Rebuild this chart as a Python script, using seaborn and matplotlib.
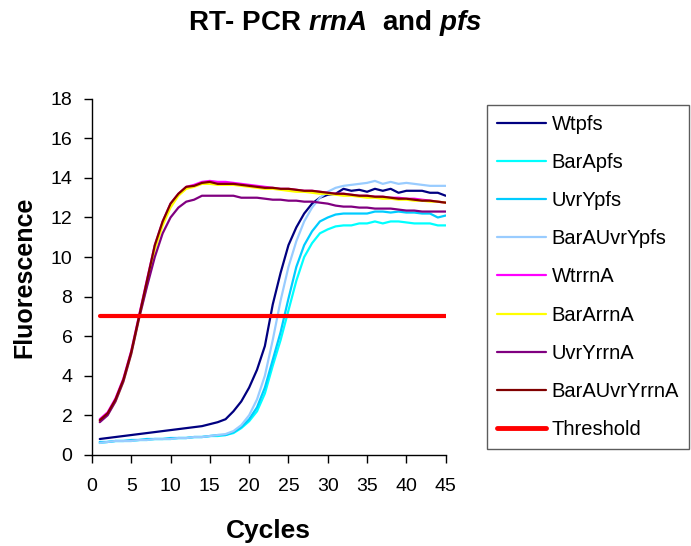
import pandas as pd
import matplotlib
matplotlib.use("Agg")
import matplotlib.pyplot as plt
import seaborn as sns
from matplotlib.lines import Line2D

# cycle numbers
cycles = list(range(1, 46))

# fluorescence readings per sample
wtpfs = [0.8, 0.85, 0.9, 0.95, 1.0, 1.05, 1.1, 1.15, 1.2, 1.25, 1.3, 1.35, 1.4, 1.45, 1.55,
         1.65, 1.8, 2.2, 2.7, 3.4, 4.3, 5.5, 7.6, 9.2, 10.6, 11.5, 12.2, 12.7, 13.0, 13.15,
         13.2, 13.45, 13.35, 13.4, 13.3, 13.45, 13.35, 13.45, 13.25, 13.35, 13.35, 13.35, 13.25, 13.25, 13.1]
barapfs = [0.6, 0.65, 0.7, 0.7, 0.7, 0.75, 0.75, 0.8, 0.8, 0.8, 0.85, 0.85, 0.9, 0.9, 0.95,
           0.95, 1.0, 1.1, 1.35, 1.7, 2.2, 3.1, 4.5, 5.8, 7.3, 8.8, 10.0, 10.7, 11.2, 11.4,
           11.55, 11.6, 11.6, 11.7, 11.7, 11.8, 11.7, 11.8, 11.8, 11.75, 11.7, 11.7, 11.7, 11.6, 11.6]
uvrypfs = [0.65, 0.65, 0.7, 0.7, 0.75, 0.75, 0.8, 0.8, 0.8, 0.85, 0.85, 0.85, 0.9, 0.9, 0.95,
           1.0, 1.0, 1.15, 1.4, 1.8, 2.4, 3.4, 4.8, 6.2, 7.9, 9.5, 10.6, 11.3, 11.8, 12.0,
           12.15, 12.2, 12.2, 12.2, 12.2, 12.3, 12.3, 12.25, 12.3, 12.25, 12.25, 12.2, 12.2, 12.0, 12.1]
barauvrypfs = [0.6, 0.65, 0.7, 0.7, 0.7, 0.75, 0.75, 0.8, 0.8, 0.8, 0.85, 0.85, 0.9, 0.9, 0.95,
               1.0, 1.05, 1.2, 1.5, 2.0, 2.8, 4.0, 5.8, 7.8, 9.5, 10.8, 11.8, 12.5, 13.0, 13.3,
               13.5, 13.6, 13.65, 13.7, 13.75, 13.85, 13.7, 13.8, 13.7, 13.75, 13.7, 13.65, 13.6, 13.6, 13.6]
wtrrna = [1.8, 2.15, 2.85, 3.85, 5.25, 7.05, 8.85, 10.6, 11.8, 12.7, 13.2, 13.55, 13.65, 13.8, 13.85,
          13.8, 13.8, 13.75, 13.7, 13.65, 13.6, 13.55, 13.5, 13.45, 13.45, 13.4, 13.35, 13.35, 13.3, 13.25,
          13.2, 13.2, 13.15, 13.1, 13.1, 13.05, 13.05, 13.0, 13.0, 12.95, 12.95, 12.9, 12.85, 12.8, 12.75]
bararrna = [1.7, 2.05, 2.7, 3.7, 5.1, 6.9, 8.6, 10.4, 11.6, 12.5, 13.1, 13.45, 13.55, 13.7, 13.7,
            13.65, 13.65, 13.65, 13.6, 13.55, 13.5, 13.45, 13.45, 13.4, 13.35, 13.3, 13.3, 13.25, 13.2, 13.2,
            13.15, 13.1, 13.1, 13.05, 13.0, 13.0, 12.95, 12.95, 12.9, 12.9, 12.85, 12.85, 12.8, 12.8, 12.75]
uvryrrna = [1.65, 2.0, 2.7, 3.7, 5.1, 6.9, 8.5, 10.0, 11.2, 12.0, 12.5, 12.8, 12.9, 13.1, 13.1,
            13.1, 13.1, 13.1, 13.0, 13.0, 13.0, 12.95, 12.9, 12.9, 12.85, 12.85, 12.8, 12.8, 12.75, 12.7,
            12.6, 12.55, 12.55, 12.5, 12.5, 12.45, 12.45, 12.45, 12.4, 12.35, 12.35, 12.3, 12.3, 12.3, 12.3]
barauvryrrna = [1.75, 2.1, 2.8, 3.8, 5.2, 7.0, 8.8, 10.6, 11.8, 12.7, 13.2, 13.55, 13.6, 13.75, 13.8,
                13.7, 13.7, 13.7, 13.65, 13.6, 13.55, 13.5, 13.5, 13.45, 13.45, 13.4, 13.35, 13.35, 13.3, 13.25,
                13.2, 13.2, 13.15, 13.1, 13.1, 13.05, 13.05, 13.0, 12.95, 12.95, 12.9, 12.85, 12.85, 12.8, 12.75]
threshold = 7.0

series = {
    "Wtpfs": wtpfs,
    "BarApfs": barapfs,
    "UvrYpfs": uvrypfs,
    "BarAUvrYpfs": barauvrypfs,
    "WtrrnA": wtrrna,
    "BarArrnA": bararrna,
    "UvrYrrnA": uvryrrna,
    "BarAUvrYrrnA": barauvryrrna,
    "Threshold": [threshold] * len(cycles),
}
colors = {
    "Wtpfs": "#000080",
    "BarApfs": "#00FFFF",
    "UvrYpfs": "#00CCFF",
    "BarAUvrYpfs": "#99CCFF",
    "WtrrnA": "#FF00FF",
    "BarArrnA": "#FFFF00",
    "UvrYrrnA": "#800080",
    "BarAUvrYrrnA": "#800000",
    "Threshold": "#FF0000",
}

rows = []
for name, vals in series.items():
    for c, v in zip(cycles, vals):
        rows.append({"Cycle": c, "Fluorescence": v, "Sample": name})
df = pd.DataFrame(rows)

sns.set_style("ticks")
plt.rcParams["font.family"] = ["Liberation Sans", "DejaVu Sans"]
plt.rcParams["mathtext.fontset"] = "custom"
plt.rcParams["mathtext.bfit"] = "Liberation Sans:italic:bold"
plt.rcParams["mathtext.rm"] = "Liberation Sans:bold"
for key in ["text.color", "axes.labelcolor", "xtick.color", "ytick.color"]:
    plt.rcParams[key] = "black"

fig = plt.figure(figsize=(6.91, 5.46), dpi=100)
ax = fig.add_axes([0.133, 0.167, 0.512, 0.652])

sizes = {k: 1.6 for k in series}
sizes["Threshold"] = 3.0
sns.lineplot(data=df, x="Cycle", y="Fluorescence", hue="Sample", size="Sample",
             sizes=sizes, palette=colors, hue_order=list(series), size_order=list(series),
             ax=ax, legend=False)

ax.set_xlim(0, 45)
ax.set_ylim(0, 18)
ax.set_xticks(range(0, 46, 5))
ax.set_yticks(range(0, 19, 2))
ax.tick_params(labelsize=14, length=6, width=1, color="black")
ax.tick_params(axis="y", pad=8)
ax.tick_params(axis="x", pad=11)
for s in ["left", "bottom"]:
    ax.spines[s].set_color("black")
    ax.spines[s].set_linewidth(1)
sns.despine(ax=ax)

ax.set_xlabel("Cycles", fontsize=19, fontweight="bold", labelpad=17)
ax.set_ylabel("Fluorescence", fontsize=18, fontweight="bold", labelpad=10)
fig.text(0.485, 0.957, r"RT- PCR $\mathbfit{rrnA}$  and $\mathbfit{pfs}$", fontsize=20,
         fontweight="bold", ha="center", va="center")

handles = [Line2D([0], [0], color=colors[k], lw=sizes[k] if k != "Threshold" else 3.5) for k in series]
leg = fig.legend(handles, list(series), loc="upper left", bbox_to_anchor=(0.705, 0.808),
                 frameon=True, fancybox=False, fontsize=14.5, handlelength=2.4,
                 labelspacing=0.95, borderpad=0.5, handletextpad=0.3, borderaxespad=0)
leg.get_frame().set_edgecolor("#333333")
leg.get_frame().set_linewidth(1)

fig.savefig("out.png", dpi=100)
